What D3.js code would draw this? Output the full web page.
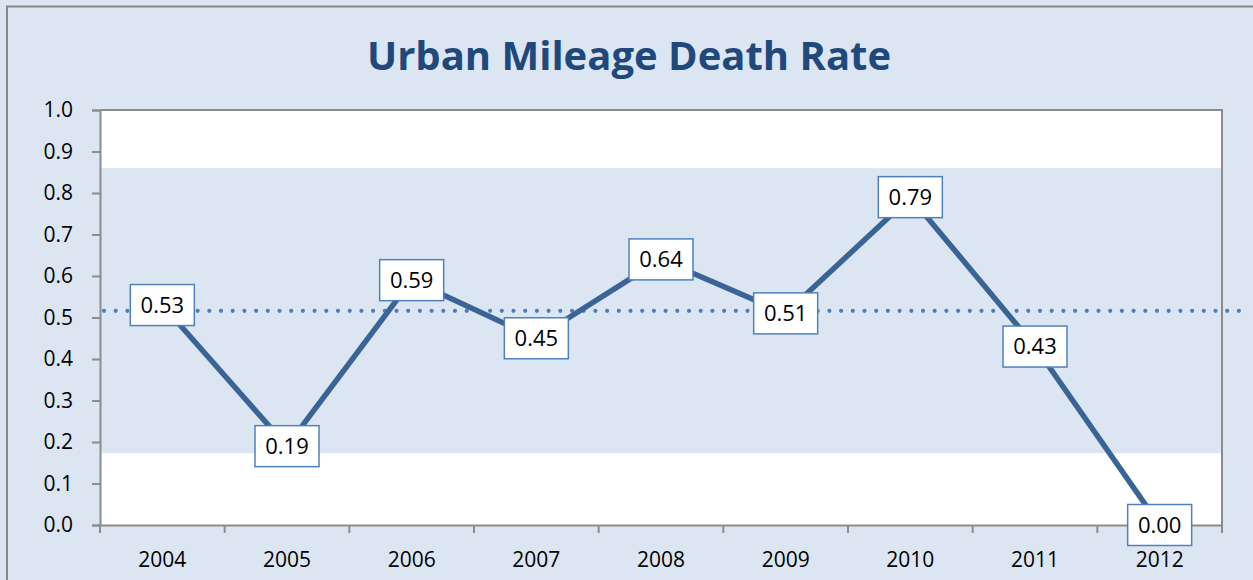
<!DOCTYPE html>
<html><head><meta charset="utf-8">
<script src="https://cdn.jsdelivr.net/npm/d3@7"></script>
<style>html,body{margin:0;padding:0;background:#fff;overflow:hidden}</style>
</head><body>
<svg id="c" width="1253" height="580"></svg>
<script>
const years = ["2004","2005","2006","2007","2008","2009","2010","2011","2012"];
const rates = [0.53,0.19,0.59,0.45,0.64,0.51,0.79,0.43,0.00];
const average = [0.516];
const band = [0.173, 0.86];
const yTicks = [0,0.1,0.2,0.3,0.4,0.5,0.6,0.7,0.8,0.9,1.0];
const title = "Urban Mileage Death Rate";

const W=1253,H=580;
const m={l:100,r:1222,t:110,b:525};
const svg=d3.select("#c");
const font="Open Sans, Lato, sans-serif";
svg.append("rect").attr("x",0).attr("y",0).attr("width",W).attr("height",H).attr("fill","#dce6f2");
svg.append("rect").attr("x",7).attr("y",6.5).attr("width",W+20).attr("height",H+20).attr("fill","none").attr("stroke","#888").attr("stroke-width",2);

const x=d3.scaleBand().domain(years).range([m.l,m.r]);
const y=d3.scaleLinear().domain([0,1]).range([m.b,m.t]);

svg.append("rect").attr("x",m.l).attr("y",m.t).attr("width",m.r-m.l).attr("height",m.b-m.t).attr("fill","#fff");
svg.append("rect").attr("x",m.l).attr("y",y(band[1])).attr("width",m.r-m.l).attr("height",y(band[0])-y(band[1])).attr("fill","#dce6f2");
svg.append("path").attr("d",`M${m.l},${m.t}H${m.r}V${m.b}`).attr("fill","none").attr("stroke","#8c8c8c").attr("stroke-width",2);

const ya=svg.append("g").attr("transform",`translate(${m.l},0)`)
 .call(d3.axisLeft(y).tickValues(yTicks).tickFormat(d3.format(".1f")).tickSize(8).tickPadding(19));
ya.select(".domain").attr("stroke","#8c8c8c").attr("stroke-width",2);
ya.selectAll("line").attr("stroke","#8c8c8c").attr("stroke-width",2);
ya.selectAll("text").attr("font-family",font).attr("font-size",21).attr("fill","#000");

const xa=svg.append("g").attr("transform",`translate(0,${m.b})`)
 .call(d3.axisBottom(x).tickSize(0).tickPadding(27));
xa.select(".domain").attr("stroke","#8c8c8c").attr("stroke-width",2);
xa.selectAll("text").attr("font-family",font).attr("font-size",21).attr("fill","#000");
const bounds=years.map(d=>x(d)).concat([m.r]);
svg.append("g").selectAll("line").data(bounds).join("line")
 .attr("x1",d=>d).attr("x2",d=>d).attr("y1",m.b).attr("y2",m.b+8).attr("stroke","#8c8c8c").attr("stroke-width",2);

svg.append("line").attr("x1",m.l+4).attr("x2",m.r+25).attr("y1",y(average[0])).attr("y2",y(average[0]))
 .attr("stroke","#4a7ebb").attr("stroke-width",4.2).attr("stroke-linecap","round").attr("stroke-dasharray","0 11.7");

const cx=d=>x(d)+x.bandwidth()/2;
svg.append("path").datum(rates.map((v,i)=>[years[i],v]))
 .attr("d",d3.line().x(d=>cx(d[0])).y(d=>y(d[1])))
 .attr("fill","none").attr("stroke","#3a6496").attr("stroke-width",5.5).attr("stroke-linejoin","round");

const lab=svg.append("g").selectAll("g").data(rates.map((v,i)=>[years[i],v])).join("g")
 .attr("transform",d=>`translate(${cx(d[0])},${y(d[1])})`);
lab.append("rect").attr("x",-32).attr("y",-20.5).attr("width",64).attr("height",41)
 .attr("fill","#fff").attr("stroke","#4f81bd").attr("stroke-width",1.5);
lab.append("text").attr("text-anchor","middle").attr("dy","0.36em")
 .attr("font-family",font).attr("font-size",22).attr("fill","#000").text(d=>d[1].toFixed(2));

svg.append("text").attr("x",629).attr("y",70).attr("text-anchor","middle")
 .attr("font-family",font).attr("font-weight","bold").attr("font-size",40).attr("fill","#1f497d").text(title);
</script>
</body></html>
